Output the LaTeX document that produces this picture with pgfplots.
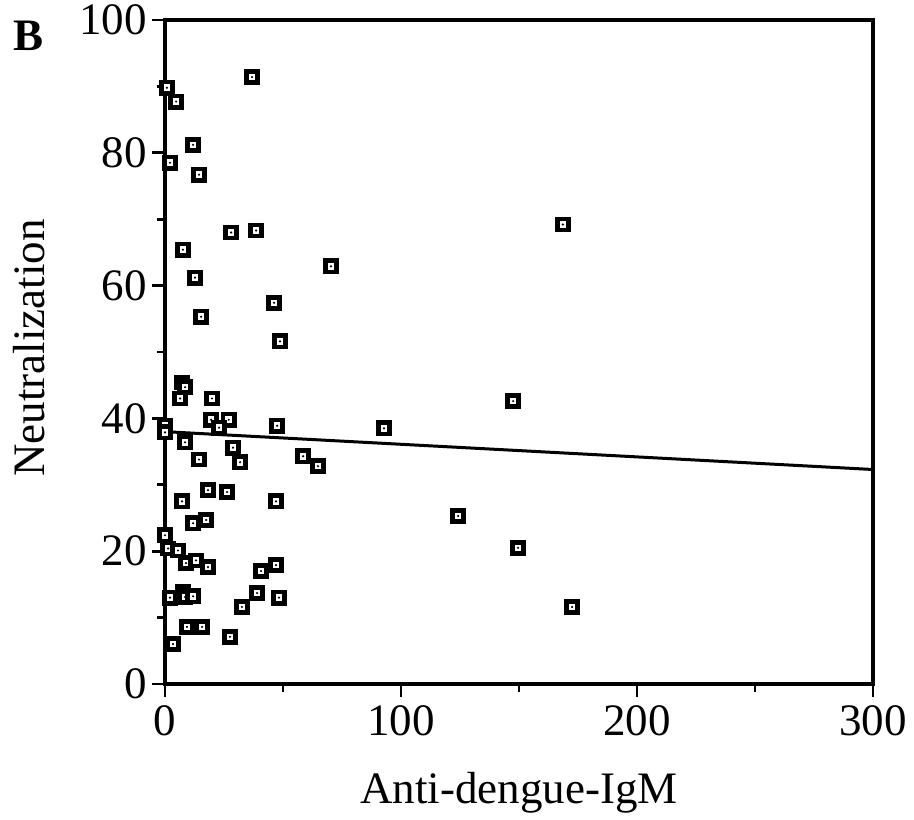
\documentclass[border=0pt]{standalone}
\usepackage{fontspec}
\setmainfont{Liberation Serif}
\usepackage{pgfplots}
\pgfplotsset{compat=1.18}
\pgfdeclareplotmark{sqdot}{%
  \pgfsetfillcolor{white}%
  \pgfpathrectangle{\pgfqpoint{-\pgfplotmarksize}{-\pgfplotmarksize}}{\pgfqpoint{2\pgfplotmarksize}{2\pgfplotmarksize}}%
  \pgfusepathqfillstroke
  \pgfsetfillcolor{black}%
  \pgfpathcircle{\pgfpointorigin}{0.6pt}%
  \pgfusepathqfill
}
\begin{document}
\begin{tikzpicture}
\begin{axis}[
  scale only axis,
  width=354pt, height=332pt,
  xmin=0, xmax=300, ymin=0, ymax=100,
  xtick={0,100,200,300}, ytick={0,20,40,60,80,100},
  minor x tick num=1, minor y tick num=1,
  tick align=outside,
  xtick pos=bottom, ytick pos=left,
  major tick length=6.5pt, minor tick length=4pt,
  axis line style={line width=1.6pt},
  every tick/.style={black, line width=1.4pt},
  /pgf/number format/assume math mode=true,
  tick label style={font=\fontsize{22.5}{26}\selectfont},
  yticklabel style={xshift=1pt},
  xticklabel style={yshift=-1pt},
  label style={font=\fontsize{22.5}{26}\selectfont},
  xlabel={Anti-dengue-IgM},
  ylabel={Neutralization},
  xlabel style={at={(axis description cs:0.5,-0.180)}, anchor=base},
  ylabel style={at={(axis description cs:-0.170,0.506)}, anchor=base, rotate=0},
  clip=false,
]
\addplot[black, line width=1.5pt] coordinates {(0,38.0) (300,32.3)};
\addplot[only marks, mark=sqdot, mark size=2.8pt,
  mark options={draw=black, fill=white, line width=2.3pt}] coordinates {
(36.9,91.4) (0.8,89.8) (4.7,87.7) (11.9,81.2) (2.1,78.5) (14.4,76.7)
(28,68) (38.6,68.3) (7.6,65.4) (168.6,69.2) (70.3,62.9) (12.7,61.2)
(46.2,57.4) (15.3,55.3) (48.7,51.6) (7.2,45.4) (8.5,44.7) (6.4,43)
(19.9,43) (147.5,42.6) (0,38.9) (0,37.9) (19.5,39.8) (27,39.8)
(22.9,38.6) (47.5,38.9) (92.8,38.5) (8.5,36.4) (28.8,35.6) (14.4,33.8)
(31.8,33.4) (58.5,34.3) (64.8,32.8) (7.2,27.5) (18.2,29.2) (26.3,28.9)
(47,27.5) (124.2,25.3) (11.9,24.2) (17.4,24.7) (0,22.4) (1.3,20.4)
(5.5,20.1) (8.9,18.2) (13.1,18.6) (18.2,17.6) (40.7,17) (47,17.9)
(149.6,20.5) (2.1,13) (7.6,13.8) (8.5,13.1) (11.9,13.2) (39,13.7)
(48.3,13) (32.6,11.6) (172.5,11.6) (9.3,8.6) (15.7,8.6) (27.5,7.1)
(3.4,6)
};
\node[font=\fontsize{22.5}{26}\selectfont\bfseries] at (rel axis cs:-0.1935,0.976) {B};
\coordinate (bbsw) at (rel axis cs:-0.2331,-0.2048);
\coordinate (bbne) at (rel axis cs:1.0579,1.0301);
\end{axis}
\pgfresetboundingbox
\useasboundingbox (bbsw) rectangle (bbne);
\end{tikzpicture}
\end{document}
